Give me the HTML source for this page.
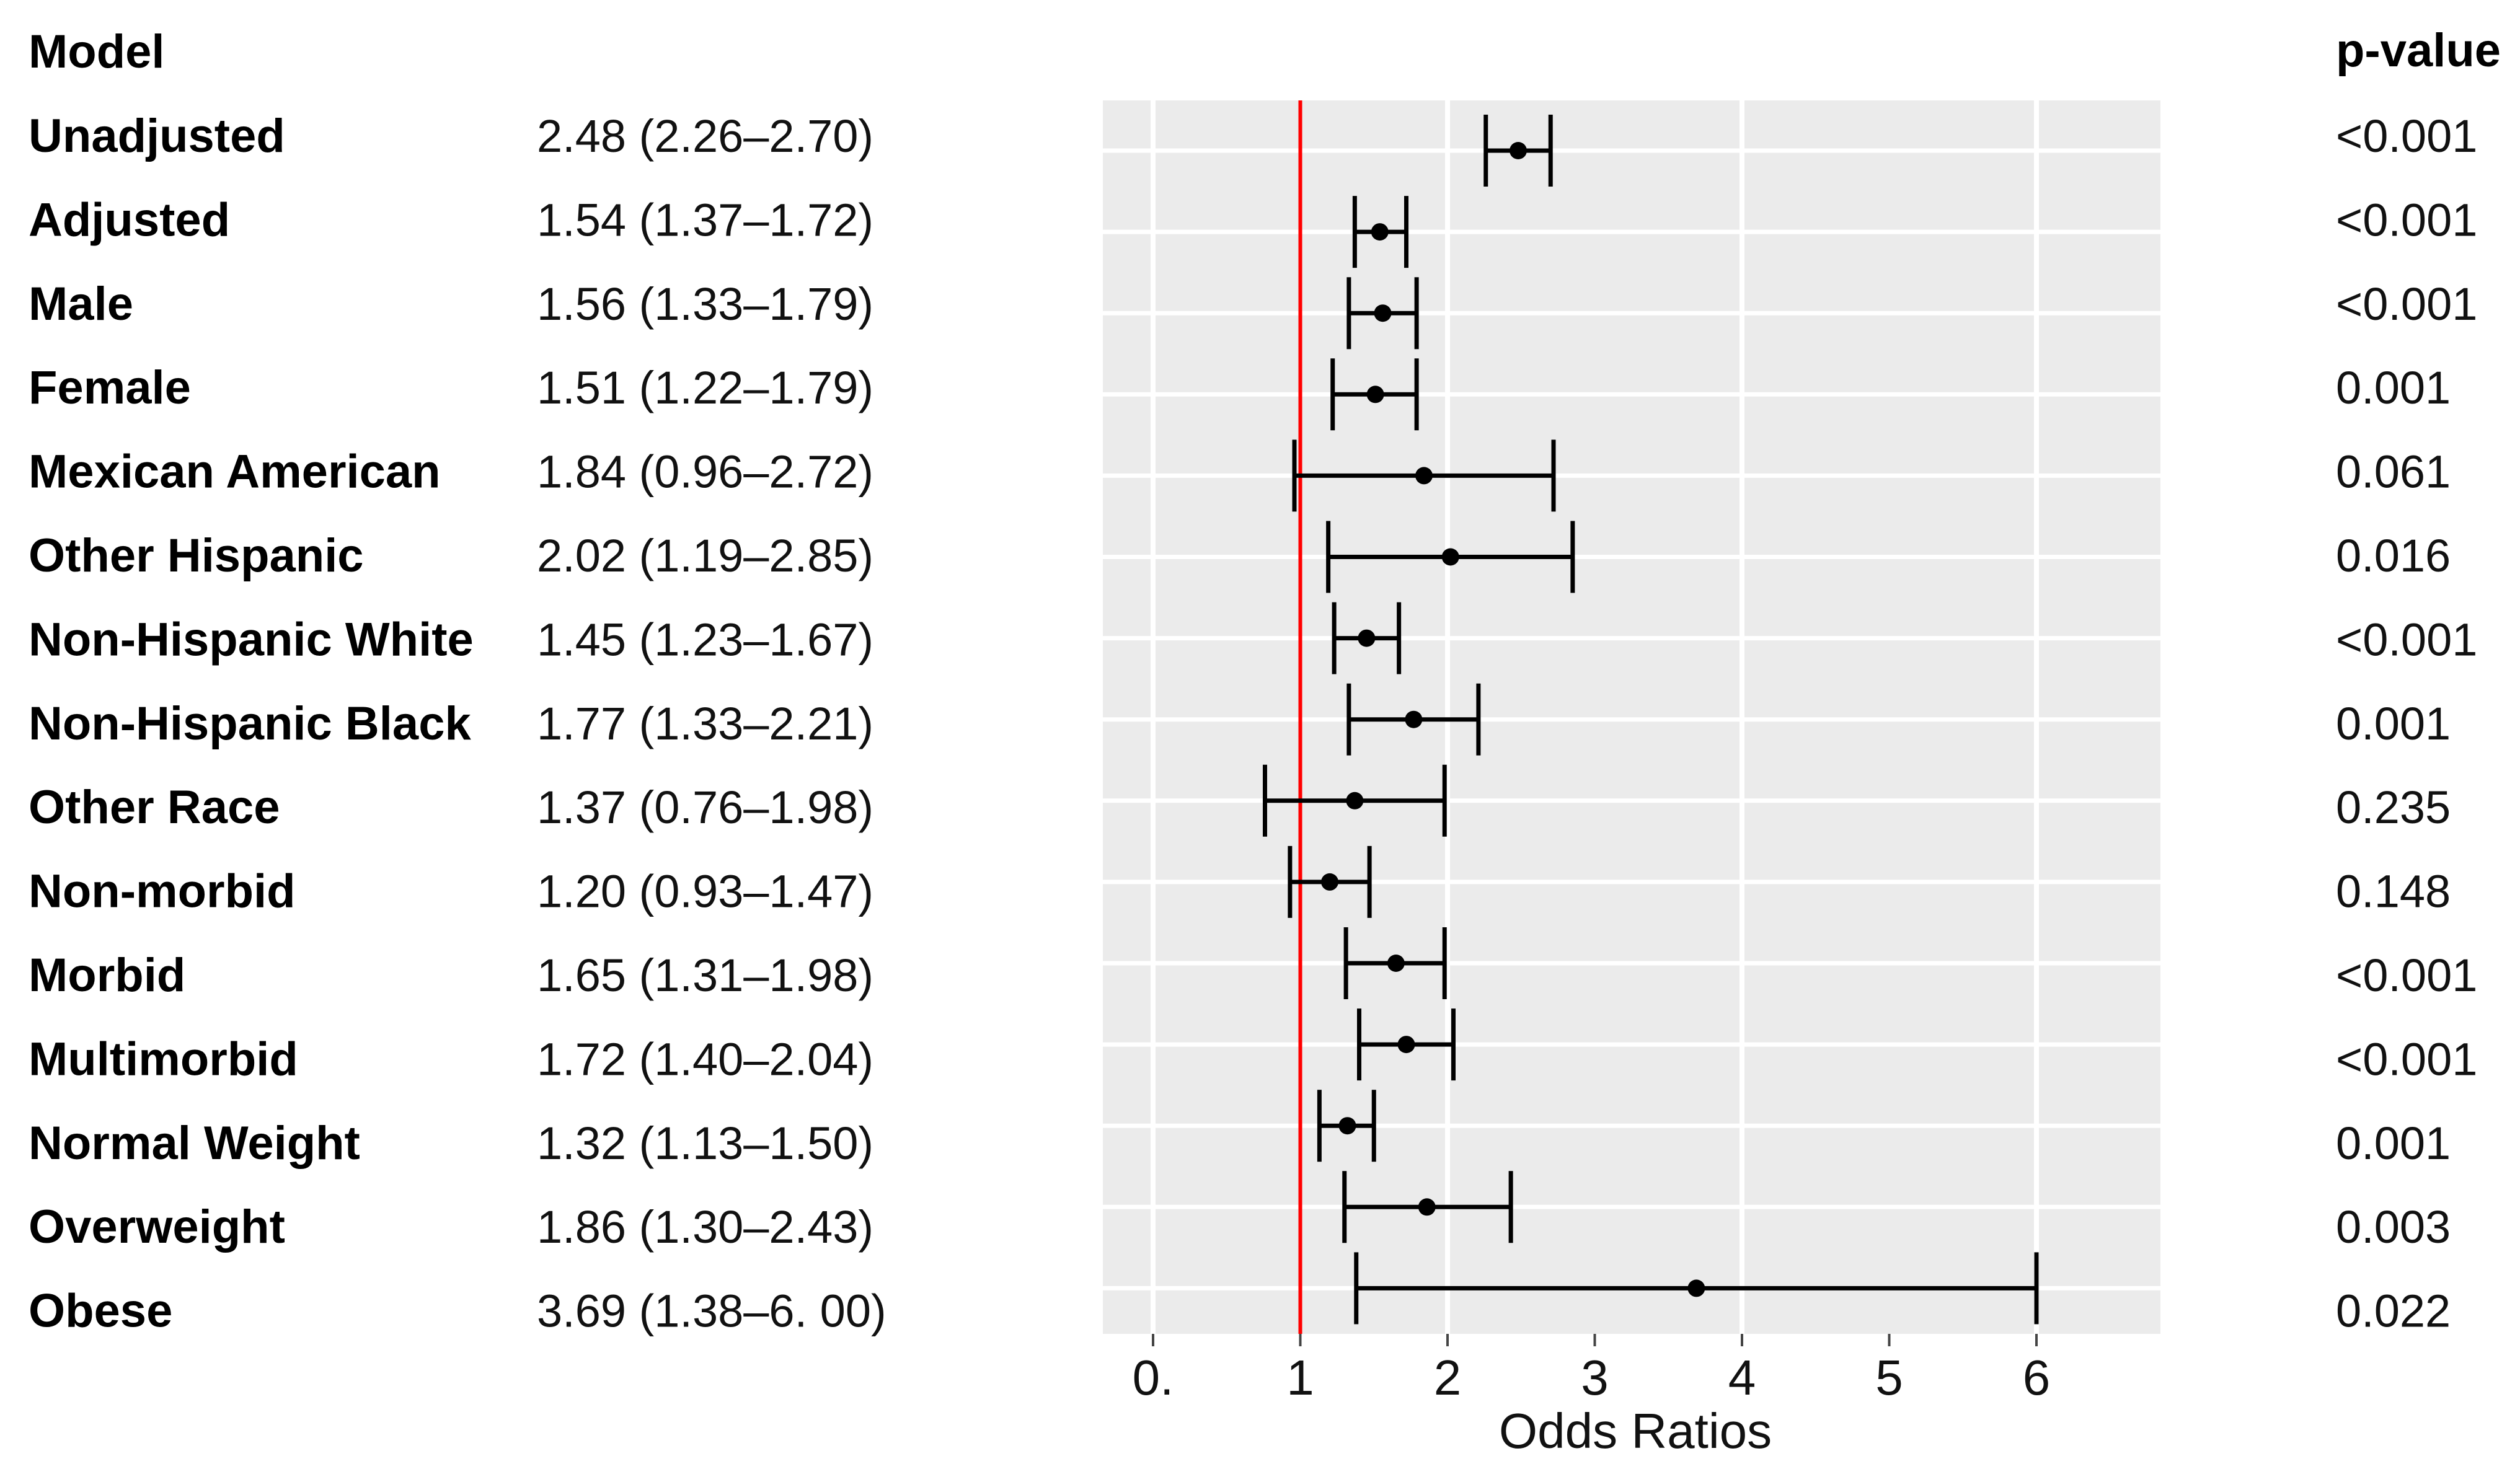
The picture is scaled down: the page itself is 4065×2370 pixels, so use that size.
<!DOCTYPE html>
<html><head><meta charset="utf-8"><style>
html,body{margin:0;padding:0;background:#fff;}
svg{display:block;}
text{font-family:"Liberation Sans",Arial,sans-serif;}
</style></head><body>
<svg id="chart" width="4065" height="2370" viewBox="0 0 4065 2370" xmlns="http://www.w3.org/2000/svg">
<rect x="0" y="0" width="4065" height="2370" fill="#fff"/>
<text x="46" y="109" font-size="76" font-weight="bold">Model</text>
<text x="3768" y="107" font-size="76" font-weight="bold">p-value</text>
<rect x="1779" y="162" width="1706" height="1990" fill="#EBEBEB"/>
<g id="grid"></g>
<g id="marks"></g>
<g id="axis"></g>
<g id="table"></g>
<text x="2638" y="2336" font-size="80" text-anchor="middle" fill="#111">Odds Ratios</text>
</svg>
<script>
const labels = ["Unadjusted","Adjusted","Male","Female","Mexican American","Other Hispanic","Non-Hispanic White","Non-Hispanic Black","Other Race","Non-morbid","Morbid","Multimorbid","Normal Weight","Overweight","Obese"];
const estimates = [2.48,1.54,1.56,1.51,1.84,2.02,1.45,1.77,1.37,1.20,1.65,1.72,1.32,1.86,3.69];
const lower = [2.26,1.37,1.33,1.22,0.96,1.19,1.23,1.33,0.76,0.93,1.31,1.40,1.13,1.30,1.38];
const upper = [2.70,1.72,1.79,1.79,2.72,2.85,1.67,2.21,1.98,1.47,1.98,2.04,1.50,2.43,6.00];
const estText = ["2.48 (2.26–2.70)","1.54 (1.37–1.72)","1.56 (1.33–1.79)","1.51 (1.22–1.79)","1.84 (0.96–2.72)","2.02 (1.19–2.85)","1.45 (1.23–1.67)","1.77 (1.33–2.21)","1.37 (0.76–1.98)","1.20 (0.93–1.47)","1.65 (1.31–1.98)","1.72 (1.40–2.04)","1.32 (1.13–1.50)","1.86 (1.30–2.43)","3.69 (1.38–6. 00)"];
const pvals = ["<0.001","<0.001","<0.001","0.001","0.061","0.016","<0.001","0.001","0.235","0.148","<0.001","<0.001","0.001","0.003","0.022"];
const tickVals = [0,1,2,3,4,5,6];
const tickLabels = ["0.","1","2","3","4","5","6"];
const gridVals = [0,2,4,6];
const refValue = 1;

const NS="http://www.w3.org/2000/svg";
const xs = v => 1860 + v*237.5;
const ys = i => 243 + i*131.1;
const ty = i => 245 + i*135.4;
function mk(tag, attrs, parent){const e=document.createElementNS(NS,tag);for(const k in attrs)e.setAttribute(k,attrs[k]);parent.appendChild(e);return e;}
const grid=document.getElementById('grid'), marks=document.getElementById('marks'), axis=document.getElementById('axis'), table=document.getElementById('table');

gridVals.forEach(v=>{
  const l=mk('line',{x1:xs(v),x2:xs(v),y1:162,y2:2152,stroke:'#fff','stroke-width':8},grid);
  
  
});
labels.forEach((_,i)=>{
  const l=mk('line',{x1:1779,x2:3485,y1:ys(i),y2:ys(i),stroke:'#fff','stroke-width':7},grid);
  
  
});
const ref=mk('line',{x1:xs(refValue),x2:xs(refValue),y1:162,y2:2152,stroke:'#f00','stroke-width':6},marks);



labels.forEach((lab,i)=>{
  const y=ys(i);
  const g=mk('g',{},marks);
  
  
  mk('line',{x1:xs(lower[i]),x2:xs(upper[i]),y1:y,y2:y,stroke:'#000','stroke-width':7},g);
  mk('line',{x1:xs(lower[i]),x2:xs(lower[i]),y1:y-58,y2:y+58,stroke:'#000','stroke-width':7},g);
  mk('line',{x1:xs(upper[i]),x2:xs(upper[i]),y1:y-58,y2:y+58,stroke:'#000','stroke-width':7},g);
  const d=mk('circle',{cx:xs(estimates[i]),cy:y,r:14,fill:'#000'},g);
  
  

  const t1=mk('text',{x:46,y:ty(i),'font-size':76,'font-weight':'bold'},table);
  t1.textContent=lab;
  
  
  const t2=mk('text',{x:866,y:ty(i),'font-size':74,fill:'#111'},table);
  t2.textContent=estText[i];
  
  
  const t3=mk('text',{x:3768,y:ty(i),'font-size':74,fill:'#111'},table);
  t3.textContent=pvals[i];
  
  
});

tickVals.forEach((v,i)=>{
  const t=mk('line',{x1:xs(v),x2:xs(v),y1:2152,y2:2172,stroke:'#444','stroke-width':4},axis);
  
  
  const l=mk('text',{x:xs(v),y:2250,'font-size':80,'text-anchor':'middle',fill:'#111'},axis);
  l.textContent=tickLabels[i];
  
  
});
</script>
</body></html>
